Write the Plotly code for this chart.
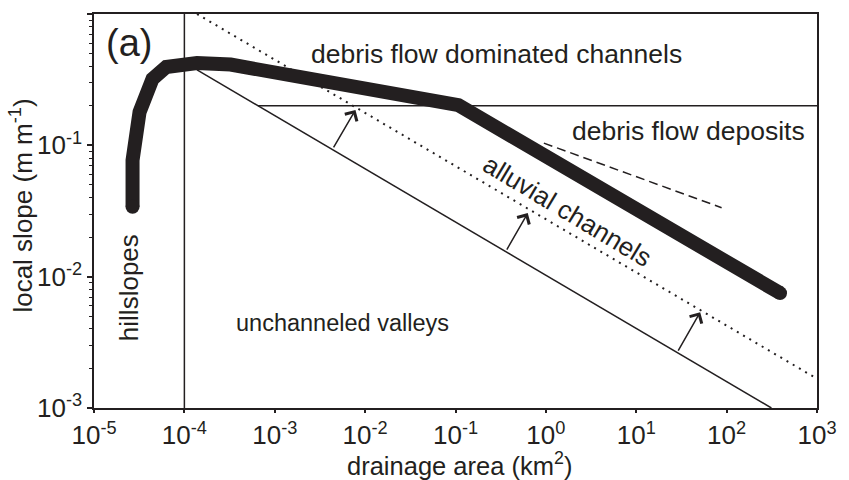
import numpy as np
import plotly.graph_objects as go

INK = "#231f20"
FONT = "Liberation Sans, Arial, sans-serif"

# Main channel profile: slope vs drainage area
profile_area = [2.67e-5, 2.67e-5, 3.19e-5, 4.44e-5, 6.3e-5, 1.38e-4, 3.25e-4, 0.108, 390]
profile_slope = [0.034, 0.077, 0.179, 0.32, 0.395, 0.424, 0.412, 0.202, 0.0075]

# Process-domain boundaries
hillslope_area = [1e-4, 1e-4]
hillslope_slope = [1e-3, 1.0]
debris_area = [6.5e-4, 1000]
debris_slope = [0.2, 0.2]
valley_area = [1.38e-4, 313]
valley_slope = [0.375, 1.0e-3]
alluvial_area = [1.38e-4, 1000]
alluvial_slope = [1.0, 0.00167]
deposit_area = [0.95, 88]
deposit_slope = [0.104, 0.0335]

# Arrows showing the shift of the channel-head boundary
arrow_tail_area = [0.00438, 0.362, 28.5]
arrow_tail_slope = [0.0938, 0.01567, 0.002667]
arrow_head_area = [0.00782, 0.63, 51]
arrow_head_slope = [0.186, 0.0305, 0.00537]

# Axis ticks
x_exponents = [-5, -4, -3, -2, -1, 0, 1, 2, 3]
y_exponents = [-3, -2, -1, 0]

fig = go.Figure()

def add_line(xs, ys, width=1.5, dash=None):
    fig.add_trace(go.Scatter(
        x=xs, y=ys, mode="lines", hoverinfo="skip", showlegend=False,
        line=dict(color=INK, width=width, dash=dash),
    ))

add_line(hillslope_area, hillslope_slope)
add_line(debris_area, debris_slope)
add_line(valley_area, valley_slope)
add_line(alluvial_area, alluvial_slope, width=2, dash="2px,5.2px")
add_line(deposit_area, deposit_slope, dash="9px,5px")
add_line(profile_area, profile_slope, width=14)

# round end caps of the thick profile
fig.add_trace(go.Scatter(
    x=[profile_area[0], profile_area[-1]], y=[profile_slope[0], profile_slope[-1]],
    mode="markers", hoverinfo="skip", showlegend=False,
    marker=dict(color=INK, size=14, line=dict(width=0)),
))

annotations = []
for ta, ts, ha, hs in zip(arrow_tail_area, arrow_tail_slope, arrow_head_area, arrow_head_slope):
    annotations.append(dict(
        x=np.log10(ha), y=np.log10(hs), ax=np.log10(ta), ay=np.log10(ts),
        xref="x", yref="y", axref="x", ayref="y", text="",
        showarrow=True, arrowhead=4, arrowsize=1.8, arrowwidth=1.5, arrowcolor=INK,
    ))

def label(text, xa, ys, size, angle=0):
    annotations.append(dict(
        x=np.log10(xa), y=np.log10(ys), xref="x", yref="y", text=text,
        showarrow=False, textangle=angle, xanchor="center", yanchor="middle",
        font=dict(family=FONT, size=size, color=INK),
    ))

label("(a)", 10 ** -4.61, 10 ** -0.22, 38)
label("debris flow dominated channels", 10 ** -0.551, 10 ** -0.305, 26.5)
label("debris flow deposits", 10 ** 1.576, 10 ** -0.891, 26.5)
label("alluvial channels", 10 ** 0.24, 10 ** -1.5, 26, angle=31)
label("unchanneled valleys", 10 ** -2.249, 10 ** -2.353, 23.5)
label("hillslopes", 10 ** -4.613, 10 ** -2.08, 26, angle=-90)

# axis titles
annotations.append(dict(
    x=0.5055, y=-0.143, xref="paper", yref="paper", showarrow=False,
    text="drainage area (km<sup>2</sup>)", xanchor="center", yanchor="middle",
    font=dict(family=FONT, size=25.5, color=INK),
))
annotations.append(dict(
    x=-0.1, y=0.513, xref="paper", yref="paper", showarrow=False, textangle=-90,
    text="local slope (m m<sup>-1</sup>)", xanchor="center", yanchor="middle",
    font=dict(family=FONT, size=26, color=INK),
))

minor_y = [m * 10.0 ** e for e in y_exponents[:-1] for m in range(2, 10)]

axis_common = dict(
    type="log", showgrid=False, zeroline=False, showline=True, mirror=True,
    linecolor=INK, linewidth=1.5, ticks="outside", tickwidth=1.5,
    tickcolor=INK, tickfont=dict(family=FONT, size=26, color=INK),
)

fig.update_layout(
    width=849, height=480,
    margin=dict(l=94, r=25, t=14, b=72),
    paper_bgcolor="white", plot_bgcolor="white",
    xaxis=dict(
        range=[-5, 3], ticklen=3.5,
        tickvals=[10.0 ** e for e in x_exponents],
        ticktext=[f"10<sup>{e}</sup>" for e in x_exponents],
        **axis_common,
    ),
    yaxis=dict(
        range=[-3, 0], ticklen=5,
        tickvals=[10.0 ** e for e in y_exponents],
        ticktext=[f"10<sup>{e}</sup>" for e in y_exponents],
        minor=dict(tickvals=minor_y, ticks="outside", ticklen=3.5, tickwidth=1, tickcolor=INK),
        **axis_common,
    ),
    annotations=annotations,
)

fig.write_html("out.html")
